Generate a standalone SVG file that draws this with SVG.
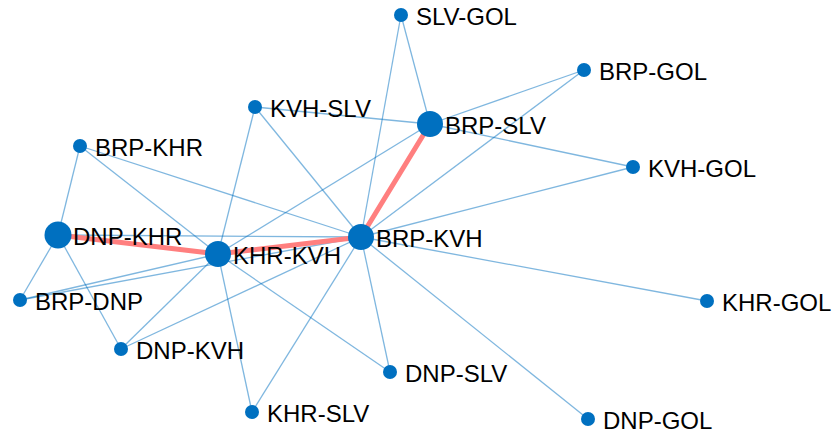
<svg xmlns="http://www.w3.org/2000/svg" width="833" height="432" viewBox="0 0 833 432">
<style>
.e{stroke:#0070c0;stroke-opacity:0.5;stroke-width:1.3;fill:none}
.h{stroke:#ff7f7f;stroke-width:5;fill:none;stroke-linecap:round}
.n circle{fill:#0070c0}
.n text{font-family:"Liberation Sans",Arial,sans-serif;font-size:24px;fill:#000}
</style>
<rect width="833" height="432" fill="#fff"/>
<g id="connectors">
<line class="e" x1="401" y1="15" x2="430" y2="124"/>
<line class="e" x1="401" y1="15" x2="361" y2="237"/>
<line class="e" x1="584" y1="70" x2="430" y2="124"/>
<line class="e" x1="584" y1="70" x2="361" y2="237"/>
<line class="e" x1="255" y1="107" x2="430" y2="124"/>
<line class="e" x1="255" y1="107" x2="218" y2="254"/>
<line class="e" x1="255" y1="107" x2="361" y2="237"/>
<line class="e" x1="430" y1="124" x2="218" y2="254"/>
<line class="e" x1="430" y1="124" x2="633" y2="167"/>
<line class="e" x1="633" y1="167" x2="361" y2="237"/>
<line class="e" x1="80" y1="146" x2="58" y2="235"/>
<line class="e" x1="80" y1="146" x2="218" y2="254"/>
<line class="e" x1="80" y1="146" x2="361" y2="237"/>
<line class="e" x1="58" y1="235" x2="361" y2="237"/>
<line class="e" x1="58" y1="235" x2="20" y2="300"/>
<line class="e" x1="58" y1="235" x2="121" y2="349"/>
<line class="e" x1="20" y1="300" x2="218" y2="254"/>
<line class="e" x1="20" y1="300" x2="361" y2="237"/>
<line class="e" x1="121" y1="349" x2="218" y2="254"/>
<line class="e" x1="121" y1="349" x2="361" y2="237"/>
<line class="e" x1="218" y1="254" x2="252" y2="412"/>
<line class="e" x1="252" y1="412" x2="361" y2="237"/>
<line class="e" x1="218" y1="254" x2="390" y2="372"/>
<line class="e" x1="390" y1="372" x2="361" y2="237"/>
<line class="e" x1="361" y1="237" x2="707" y2="301"/>
<line class="e" x1="361" y1="237" x2="588" y2="419"/>
<line class="h" x1="430" y1="124" x2="361" y2="237"/>
<line class="h" x1="58" y1="235" x2="218" y2="254"/>
<line class="h" x1="218" y1="254" x2="361" y2="237"/>
</g>
<g id="SLV-GOL" class="n"><circle cx="401" cy="15" r="7"/><text x="416" y="25">SLV-GOL</text></g>
<g id="BRP-GOL" class="n"><circle cx="584" cy="70" r="7"/><text x="599" y="80">BRP-GOL</text></g>
<g id="KVH-SLV" class="n"><circle cx="255" cy="107" r="7"/><text x="270" y="117">KVH-SLV</text></g>
<g id="BRP-SLV" class="n"><circle cx="430" cy="124" r="13"/><text x="445" y="134">BRP-SLV</text></g>
<g id="BRP-KHR" class="n"><circle cx="80" cy="146" r="7"/><text x="95" y="156">BRP-KHR</text></g>
<g id="KVH-GOL" class="n"><circle cx="633" cy="167" r="7"/><text x="648" y="177">KVH-GOL</text></g>
<g id="DNP-KHR" class="n"><circle cx="58" cy="235" r="13.5"/><text x="73" y="245">DNP-KHR</text></g>
<g id="BRP-KVH" class="n"><circle cx="361" cy="237" r="13"/><text x="376" y="247">BRP-KVH</text></g>
<g id="KHR-KVH" class="n"><circle cx="218" cy="254" r="13"/><text x="233" y="264">KHR-KVH</text></g>
<g id="BRP-DNP" class="n"><circle cx="20" cy="300" r="7"/><text x="35" y="310">BRP-DNP</text></g>
<g id="KHR-GOL" class="n"><circle cx="707" cy="301" r="7"/><text x="722" y="311">KHR-GOL</text></g>
<g id="DNP-KVH" class="n"><circle cx="121" cy="349" r="7"/><text x="136" y="359">DNP-KVH</text></g>
<g id="DNP-SLV" class="n"><circle cx="390" cy="372" r="7"/><text x="405" y="382">DNP-SLV</text></g>
<g id="KHR-SLV" class="n"><circle cx="252" cy="412" r="7"/><text x="267" y="422">KHR-SLV</text></g>
<g id="DNP-GOL" class="n"><circle cx="588" cy="419" r="7"/><text x="603" y="429">DNP-GOL</text></g>
</svg>
